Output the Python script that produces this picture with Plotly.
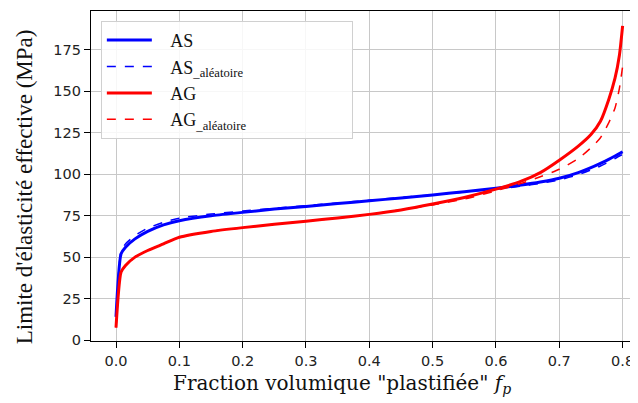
"""Limite d'elasticite effective vs fraction volumique plastifiee."""

import plotly.graph_objects as go

# Fraction volumique "plastifiée" (x)
f_p = [0, 0.008, 0.015, 0.03, 0.05, 0.075, 0.1, 0.15, 0.2, 0.25, 0.3, 0.35,
       0.4, 0.45, 0.5, 0.55, 0.6, 0.64, 0.67, 0.7, 0.73, 0.75, 0.765, 0.778,
       0.788, 0.795, 0.8]

# Limite d'élasticité effective (MPa)
as_solid = [14, 52, 56, 61, 65.5, 69.5, 72, 75, 77, 79, 80.5, 82.3,
            84, 85.7, 87.5, 89.5, 91.5, 93.5, 95.3, 97.6, 101, 104, 106.6, 109,
            111, 112.5, 113.6]
as_alea = [14, 53.5, 58, 63, 67.5, 71, 73.5, 76, 77.8, 79.5, 81, 82.7,
           84.3, 86, 87.5, 89.3, 91, 92.8, 94.5, 96.6, 99.8, 102.6, 105, 107.4,
           109.5, 111, 112]
ag_solid = [7.5, 41, 45, 50, 54, 58, 62, 65.5, 67.8, 69.8, 71.7, 73.6,
            75.8, 78.5, 82, 86, 91, 95.8, 101, 108.5, 117, 124, 132, 145,
            158, 172, 189.5]
ag_alea = [7.5, 41, 45, 50, 54, 58, 62, 65.5, 67.8, 69.8, 71.7, 73.6,
           75.8, 78.5, 81.5, 85, 90, 94.5, 98.5, 103, 109.5, 116, 122, 131,
           140, 152, 165]

x_ticks = [0.0, 0.1, 0.2, 0.3, 0.4, 0.5, 0.6, 0.7, 0.8]
y_ticks = [0, 25, 50, 75, 100, 125, 150, 175]

nb = "\u00a0"
lead = nb * 3   # gap between line sample and label
# trailing spaces closed by an invisible dot so the legend box keeps its width
pad = nb * 22 + "<span style='color:rgba(0,0,0,0)'>.</span>"

fig = go.Figure()

line_kw = dict(shape="spline", smoothing=0.6)
fig.add_scatter(x=f_p, y=as_solid, name=lead + "AS", mode="lines",
                line=dict(color="#0000ff", width=3, **line_kw))
fig.add_scatter(x=f_p, y=as_alea, name=lead + "AS<sub>_aléatoire</sub>" + pad, mode="lines",
                line=dict(color="#0000ff", width=1.5, dash="dash", **line_kw))
fig.add_scatter(x=f_p, y=ag_solid, name=lead + "AG", mode="lines",
                line=dict(color="#ff0000", width=3, **line_kw))
fig.add_scatter(x=f_p, y=ag_alea, name=lead + "AG<sub>_aléatoire</sub>", mode="lines",
                line=dict(color="#ff0000", width=1.5, dash="dash", **line_kw))

tick_font = dict(family="DejaVu Sans", size=14.5, color="#222222")

fig.update_xaxes(
    range=[-0.0395, 0.8243], tickvals=x_ticks, tickformat=".1f",
    showgrid=True, gridcolor="#c8c8c8", gridwidth=1.3,
    showline=True, linecolor="black", linewidth=1.2, mirror=True,
    ticks="outside", ticklen=6, tickcolor="black", tickfont=tick_font,
    zeroline=False, automargin=False,
)
fig.update_yaxes(
    range=[-0.6, 198.5], tickvals=y_ticks,
    showgrid=True, gridcolor="#c8c8c8", gridwidth=1.3,
    showline=True, linecolor="black", linewidth=1.2, mirror=False,
    ticks="outside", ticklen=6, tickcolor="black", tickfont=tick_font,
    zeroline=False, automargin=False,
)

# axis titles placed as annotations to match the original offsets
fig.add_annotation(
    text="Limite d'élasticité effective (MPa)", textangle=-90,
    xref="paper", yref="paper", x=-0.12, y=0.467,
    xanchor="center", yanchor="middle", showarrow=False,
    font=dict(family="Liberation Serif", size=23, color="#111111"),
)
fig.add_annotation(
    text='Fraction volumique "plastifiée" <i>f</i><sub><i>p</i></sub>',
    xref="paper", yref="paper", x=0.458, y=-0.13,
    xanchor="center", yanchor="middle", showarrow=False,
    font=dict(family="DejaVu Serif", size=20, color="#111111"),
)

# the page body adds an 8px offset, so the figure is sized to the visible area
fig.update_layout(
    width=630, height=395,
    margin=dict(l=83, r=0, t=3, b=62, autoexpand=False),
    paper_bgcolor="white", plot_bgcolor="white",
    showlegend=True,
    legend=dict(
        x=0.018, y=0.97, xanchor="left", yanchor="top",
        bgcolor="rgba(255,255,255,0.85)", bordercolor="#d0d0d0", borderwidth=1,
        font=dict(family="Liberation Serif", size=18, color="#111111"),
        itemwidth=45, tracegroupgap=0,
    ),
)

fig.write_html("out.html")
